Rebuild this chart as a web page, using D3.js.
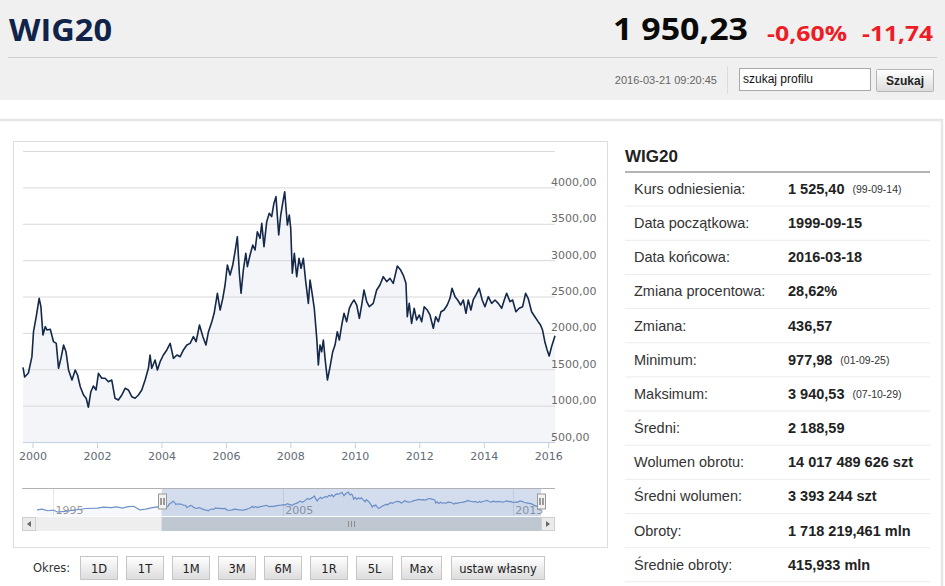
<!DOCTYPE html>
<html lang="pl">
<head>
<meta charset="UTF-8">
<title>WIG20</title>
<style>
  body { margin: 0; background: #fff; }
  svg { display: block; }
  .os { font-family: "Open Sans", "Noto Sans", sans-serif; }
  .ar { font-family: Arial, "Liberation Sans", sans-serif; }
  .dv { font-family: "DejaVu Sans", Verdana, sans-serif; }
</style>
</head>
<body>
<svg id="page" width="945" height="586"></svg>
<script src="https://d3js.org/d3.v7.min.js"></script>
<script>
// WIG20 closing values (1999-09-15 .. 2016-03-18)
const dates = [
  "1999-09-15","1999-10-04","1999-11-15","1999-12-25","2000-01-12","2000-02-12","2000-03-16","2000-04-05",
  "2000-04-28","2000-05-24","2000-06-12","2000-07-20","2000-08-26","2000-09-26","2000-10-22","2000-11-18",
  "2000-12-18","2001-01-14","2001-02-12","2001-03-23","2001-04-29","2001-05-25","2001-06-25","2001-08-01",
  "2001-08-31","2001-09-25","2001-10-23","2001-11-21","2001-12-21","2002-01-17","2002-02-24","2002-04-02",
  "2002-05-10","2002-06-17","2002-07-24","2002-08-31","2002-10-09","2002-11-15","2002-12-22","2003-01-30",
  "2003-03-08","2003-04-15","2003-05-23","2003-06-30","2003-08-06","2003-08-25","2003-09-13","2003-10-21",
  "2003-11-16","2003-12-17","2004-01-23","2004-03-02","2004-04-09","2004-05-16","2004-06-24","2004-07-31",
  "2004-09-06","2004-10-15","2004-11-21","2004-12-28","2005-01-28","2005-03-07","2005-04-15","2005-05-19",
  "2005-06-17","2005-07-25","2005-08-20","2005-09-26","2005-10-27","2005-11-26","2005-12-22","2006-01-17",
  "2006-02-17","2006-03-19","2006-04-14","2006-05-10","2006-06-02","2006-06-21","2006-07-17","2006-08-14",
  "2006-09-01","2006-10-01","2006-11-01","2006-11-27","2006-12-23","2007-01-22","2007-02-11","2007-03-08",
  "2007-04-08","2007-05-07","2007-06-03","2007-06-29","2007-07-22","2007-08-22","2007-09-14","2007-10-06",
  "2007-10-29","2007-11-28","2007-12-20","2008-01-05","2008-01-23","2008-02-15","2008-03-13","2008-04-08",
  "2008-05-01","2008-05-27","2008-06-23","2008-07-23","2008-08-11","2008-09-06","2008-09-28","2008-10-26",
  "2008-11-13","2008-12-02","2008-12-21","2009-01-09","2009-01-28","2009-02-24","2009-03-26","2009-04-25",
  "2009-05-21","2009-06-16","2009-07-09","2009-08-05","2009-08-31","2009-09-30","2009-10-30","2009-11-26",
  "2009-12-22","2010-01-22","2010-02-21","2010-03-19","2010-04-14","2010-05-15","2010-06-13","2010-07-28",
  "2010-09-05","2010-10-12","2010-11-19","2010-12-28","2011-02-03","2011-03-12","2011-04-27","2011-06-04",
  "2011-07-03","2011-08-03","2011-08-18","2011-09-09","2011-10-06","2011-11-04","2011-12-02","2012-01-01",
  "2012-01-28","2012-02-26","2012-04-01","2012-05-01","2012-06-08","2012-07-05","2012-08-04","2012-09-03",
  "2012-10-07","2012-11-13","2012-12-14","2013-01-06","2013-02-09","2013-03-11","2013-04-14","2013-05-14",
  "2013-06-13","2013-07-09","2013-08-08","2013-09-03","2013-10-04","2013-11-10","2013-12-14","2014-01-14",
  "2014-02-21","2014-03-31","2014-05-08","2014-06-14","2014-07-23","2014-08-21","2014-09-17","2014-10-25",
  "2014-11-24","2014-12-31","2015-02-06","2015-03-17","2015-04-20","2015-05-19","2015-06-27","2015-08-03",
  "2015-09-09","2015-10-06","2015-10-29","2015-11-24","2015-12-20","2016-01-12","2016-02-08","2016-03-18"
];
const values = [
  1525,1393,1448,1673,2016,2222,2475,2360, 1971,2085,2040,2049,1879,1856,1513,1650,
  1833,1741,1490,1352,1490,1421,1260,1146, 1101,978,1191,1270,1215,1444,1376,1376,
  1329,1352,1101,1078,1146,1238,1215,1123, 1101,1146,1215,1352,1513,1696,1513,1627,
  1490,1604,1696,1765,1856,1650,1696,1673, 1765,1833,1856,1948,1879,2108,1948,1833,
  2016,2154,2269,2544,2314,2475,2658,2933, 2795,2933,3116,3322,2819,2544,2864,3094,
  2910,3070,3208,3139,3391,3300,3506,3185, 3529,3644,3598,3782,3873,3345,3620,3782,
  3940,3483,3620,3437,2819,3094,2773,3025, 2888,3025,2704,2406,2727,2521,2338,1925,
  1558,1833,1741,1902,1650,1352,1535,1741, 1833,2016,1902,2108,2269,2154,2338,2406,
  2452,2383,2200,2383,2589,2429,2360,2406, 2589,2658,2773,2704,2750,2681,2919,2864,
  2795,2681,2222,2406,2131,2338,2177,2246, 2154,2360,2314,2246,2063,2222,2154,2291,
  2314,2383,2475,2613,2498,2452,2383,2452, 2269,2452,2314,2452,2521,2613,2452,2360,
  2498,2406,2452,2406,2338,2452,2544,2429, 2452,2291,2338,2360,2544,2475,2291,2222,
  2154,2108,2039,1879,1765,1682,1810,1962
];
// earlier history, only shown in the navigator strip
const navDates = ["1994-04-14","1994-07-01","1994-10-01","1995-01-02","1995-03-01","1995-07-03","1996-01-02",
  "1996-06-03","1996-12-02","1997-03-03","1997-07-01","1997-10-01","1998-01-02","1998-04-01","1998-07-01",
  "1998-10-01","1999-01-04","1999-04-01","1999-07-01"];
const navValues = [1120,1250,1000,1100,800,900,1150,1350,1400,1550,1500,1600,1400,1650,1700,1150,1250,1450,1600];

const yTicks = [500,1000,1500,2000,2500,3000,3500,4000,4500];
const navYears = ["1995","2005","2015"];

const header = { name: "WIG20", price: "1 950,23", pct: "-0,60%", chg: "-11,74", time: "2016-03-21 09:20:45" };
const statLabels = ["Kurs odniesienia:","Data początkowa:","Data końcowa:","Zmiana procentowa:","Zmiana:","Minimum:",
  "Maksimum:","Średni:","Wolumen obrotu:","Średni wolumen:","Obroty:","Średnie obroty:"];
const statValues = ["1 525,40","1999-09-15","2016-03-18","28,62%","436,57","977,98","3 940,53","2 188,59",
  "14 017 489 626 szt","3 393 244 szt","1 718 219,461 mln","415,933 mln"];
const statNotes = ["(99-09-14)","","","","","(01-09-25)","(07-10-29)","","","","",""];
const periods = ["1D","1T","1M","3M","6M","1R","5L","Max","ustaw własny"];

const parse = d3.timeParse("%Y-%m-%d");
const data = dates.map((d, i) => ({ date: parse(d), v: values[i] }));
const navData = navDates.map((d, i) => ({ date: parse(d), v: navValues[i] })).concat(data);

const svg = d3.select("#page");

// ---- header band
svg.append("rect").attr("width", 945).attr("height", 100).attr("fill", "#f0f0f0");
function headText(t, xs, xe, base, size, color) {
  svg.append("text").attr("class", "os").attr("x", xs).attr("y", base)
     .attr("font-size", size).attr("font-weight", "bold").attr("fill", color)
     .attr("textLength", xe - xs).attr("lengthAdjust", "spacingAndGlyphs").text(t);
}
headText(header.name, 9, 112, 41, 31, "#0f2448");
headText(header.price, 613, 748, 40, 30, "#0a0a0a");
headText(header.pct, 767, 847, 41, 22, "#ee1c25");
headText(header.chg, 862, 933, 41, 22, "#ee1c25");

svg.append("line").attr("x1", 8).attr("x2", 937).attr("y1", 57.5).attr("y2", 57.5).attr("stroke", "#d0d0d0");
svg.append("text").attr("class", "ar").attr("x", 717).attr("y", 84).attr("text-anchor", "end")
   .attr("font-size", 11).attr("fill", "#666").text(header.time);
svg.append("line").attr("x1", 727.5).attr("x2", 727.5).attr("y1", 66).attr("y2", 94).attr("stroke", "#dcdcdc");
svg.append("rect").attr("x", 739.5).attr("y", 68.5).attr("width", 131).attr("height", 22)
   .attr("fill", "#fff").attr("stroke", "#a8a8a8");
svg.append("text").attr("class", "ar").attr("x", 743).attr("y", 83).attr("font-size", 12)
   .attr("fill", "#111").text("szukaj profilu");

const grad = svg.append("defs").append("linearGradient").attr("id", "btn").attr("x1", 0).attr("x2", 0).attr("y1", 0).attr("y2", 1);
grad.append("stop").attr("offset", 0).attr("stop-color", "#ffffff");
grad.append("stop").attr("offset", 1).attr("stop-color", "#dcdcdc");

svg.append("rect").attr("x", 876.5).attr("y", 69.5).attr("width", 57).attr("height", 22)
   .attr("fill", "url(#btn)").attr("stroke", "#b5b5b5").attr("rx", 1);
svg.append("text").attr("class", "ar").attr("x", 905).attr("y", 85).attr("text-anchor", "middle")
   .attr("font-size", 12).attr("font-weight", "bold").attr("fill", "#222").text("Szukaj");

// ---- content panel frame
svg.append("rect").attr("x", -2).attr("y", 120).attr("width", 944).attr("height", 480)
   .attr("fill", "#fff").attr("stroke", "#e6e6e6").attr("stroke-width", 2.5);
svg.append("rect").attr("x", 13.5).attr("y", 141.5).attr("width", 594).attr("height", 406)
   .attr("fill", "#fff").attr("stroke", "#dedede");

// ---- main chart
const x = d3.scaleTime().domain([parse("1999-09-15"), parse("2016-03-18")]).range([23, 555]);
const y = d3.scaleLinear().domain([500, 4500]).range([442, 151]);
const fmt = v => d3.format(".2f")(v).replace(".", ",");

const area = d3.area().x(d => x(d.date)).y0(y(500)).y1(d => y(d.v));
const line = d3.line().x(d => x(d.date)).y(d => y(d.v));

svg.append("path").datum(data).attr("d", area).attr("fill", "#f4f5f8");

const yAxis = svg.append("g").attr("transform", "translate(555,0)")
   .call(d3.axisLeft(y).tickValues(yTicks).tickSize(532).tickFormat(""));
yAxis.select(".domain").remove();
yAxis.selectAll("line").attr("stroke", "#d9d9d9");

svg.append("g").selectAll("text").data(yTicks.filter(t => t < 4500)).join("text")
   .attr("class", "dv").attr("x", 551).attr("y", d => y(d) - 1.5)
   .attr("font-size", 11).attr("fill", "#6b6b6b").text(fmt);

svg.append("path").datum(data).attr("d", line).attr("fill", "none")
   .attr("stroke", "#14284a").attr("stroke-width", 1.6).attr("stroke-linejoin", "round");

const xAxis = svg.append("g").attr("transform", "translate(0,442)")
   .call(d3.axisBottom(x).ticks(d3.timeYear.every(2)).tickSize(6).tickPadding(4).tickFormat(d3.timeFormat("%Y")));
xAxis.select(".domain").attr("stroke", "#c0d0e0").attr("d", "M23,0.5H555");
xAxis.selectAll(".tick line").attr("stroke", "#c0d0e0");
xAxis.selectAll(".tick text").attr("class", "dv").attr("font-size", 11).attr("fill", "#606a74");

// ---- navigator
const nx = d3.scaleTime().domain([parse("1994-04-14"), parse("2016-03-18")]).range([37, 541]);
const ny = d3.scaleLinear().domain(d3.extent(navData, d => d.v)).range([512, 492]);
const nav = svg.append("g");
nav.append("rect").attr("x", 22).attr("y", 488).attr("width", 533).attr("height", 28).attr("fill", "#fff");
nav.selectAll("line.nt").data(navYears).join("line").attr("class", "nt")
   .attr("x1", d => Math.round(nx(parse(d + "-01-01"))) + 0.5).attr("x2", d => Math.round(nx(parse(d + "-01-01"))) + 0.5)
   .attr("y1", 488).attr("y2", 516).attr("stroke", "#e6e6e6");
nav.selectAll("text").data(navYears).join("text").attr("class", "dv")
   .attr("x", d => nx(parse(d + "-01-01")) + 2).attr("y", 514).attr("font-size", 11).attr("fill", "#999").text(d => d);
nav.append("path").datum(navData)
   .attr("d", d3.area().x(d => nx(d.date)).y0(516).y1(d => ny(d.v)))
   .attr("fill", "rgba(69,114,167,0.05)");
nav.append("path").datum(navData)
   .attr("d", d3.line().x(d => nx(d.date)).y(d => ny(d.v)))
   .attr("fill", "none").attr("stroke", "#6d92c9").attr("stroke-width", 1.2);
const selL = nx(parse("1999-09-15")), selR = nx(parse("2016-03-18"));
nav.append("rect").attr("x", selL).attr("y", 488).attr("width", selR - selL).attr("height", 28)
   .attr("fill", "rgba(102,133,194,0.28)");
nav.append("line").attr("x1", 22).attr("x2", 555).attr("y1", 488.5).attr("y2", 488.5).attr("stroke", "#b2b1b6");
[selL, selR].forEach(h => {
  const g = nav.append("g").attr("transform", `translate(${Math.round(h) + 0.5},0)`);
  g.append("rect").attr("x", -4).attr("y", 494).attr("width", 8).attr("height", 15)
   .attr("fill", "#f2f2f2").attr("stroke", "#999");
  g.append("line").attr("x1", -1.5).attr("x2", -1.5).attr("y1", 498).attr("y2", 505).attr("stroke", "#444");
  g.append("line").attr("x1", 1.5).attr("x2", 1.5).attr("y1", 498).attr("y2", 505).attr("stroke", "#444");
});
// scrollbar
nav.append("rect").attr("x", 22).attr("y", 517).attr("width", 533).attr("height", 14).attr("fill", "#eeeeee");
nav.append("rect").attr("x", selL).attr("y", 517).attr("width", selR - selL).attr("height", 14).attr("fill", "#bfc7d0");
[[22, "M31,521 L27,524 L31,527 Z"], [541, "M546,521 L550,524 L546,527 Z"]].forEach(([bx, p]) => {
  nav.append("rect").attr("x", bx + 0.5).attr("y", 517.5).attr("width", 13).attr("height", 13)
     .attr("fill", "#ebebeb").attr("stroke", "#cfcfcf");
  nav.append("path").attr("d", p).attr("fill", "#666");
});
const gx = Math.round((selL + selR) / 2);
[-3, 0, 3].forEach(o => nav.append("line").attr("x1", gx + o + 0.5).attr("x2", gx + o + 0.5)
   .attr("y1", 521).attr("y2", 527).attr("stroke", "#8d8d8d"));

// ---- period buttons
svg.append("text").attr("class", "dv").attr("x", 33).attr("y", 572).attr("font-size", 11.5)
   .attr("fill", "#333").text("Okres:");
const btnX = [80, 126, 172, 218, 264, 310, 356, 401, 451];
const btnW = [37, 37, 37, 37, 37, 37, 36, 40, 93];
const bg = svg.append("g").selectAll("g").data(periods).join("g")
   .attr("transform", (d, i) => `translate(${btnX[i] + 0.5},556.5)`);
bg.append("rect").attr("width", (d, i) => btnW[i]).attr("height", 23)
   .attr("fill", "url(#btn)").attr("stroke", "#c6c6c6");
bg.append("text").attr("class", "dv").attr("x", (d, i) => btnW[i] / 2).attr("y", 16)
   .attr("text-anchor", "middle").attr("font-size", 11.5).attr("fill", "#222").text(d => d);

// ---- statistics panel
svg.append("text").attr("class", "ar").attr("x", 625).attr("y", 162).attr("font-size", 17)
   .attr("font-weight", "bold").attr("fill", "#222").text(header.name);
svg.append("line").attr("x1", 625).attr("x2", 930).attr("y1", 172).attr("y2", 172)
   .attr("stroke", "#9a9a9a").attr("stroke-width", 1.5);
const rowH = 34.15;
const rows = svg.append("g").selectAll("g").data(statLabels).join("g")
   .attr("transform", (d, i) => `translate(0,${172 + i * rowH})`);
rows.append("line")
   .attr("x1", 625).attr("x2", 930).attr("y1", rowH).attr("y2", rowH).attr("stroke", "#ececec");
rows.append("text").attr("class", "ar").attr("x", 634).attr("y", 22).attr("font-size", 14.5)
   .attr("fill", "#333").text(d => d);
rows.append("text").attr("class", "ar").attr("x", 788).attr("y", 22).attr("font-size", 14.5)
   .attr("font-weight", "bold").attr("fill", "#222").text((d, i) => statValues[i])
   .each(function (d, i) {
     if (!statNotes[i]) return;
     const w = this.getComputedTextLength();
     d3.select(this.parentNode).append("text").attr("class", "ar").attr("x", 788 + w + 8).attr("y", 21)
       .attr("font-size", 10.5).attr("fill", "#333").text(statNotes[i]);
   });
</script>
</body>
</html>
